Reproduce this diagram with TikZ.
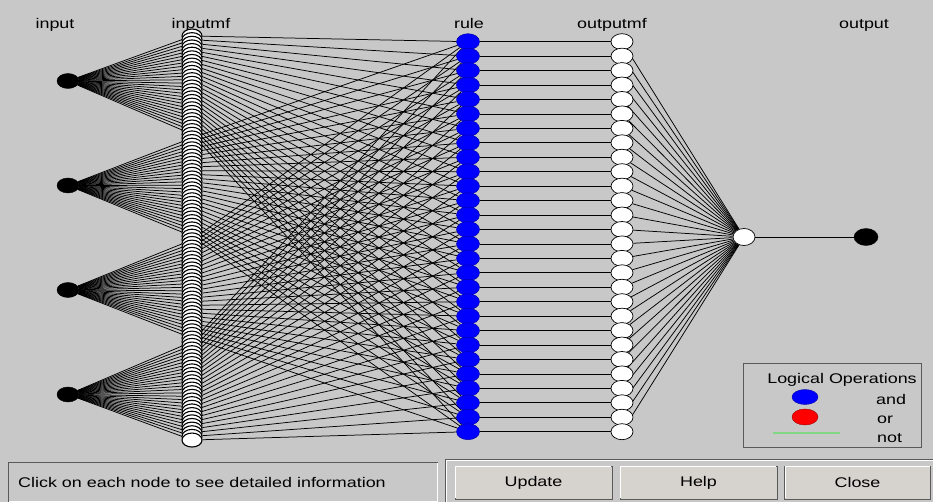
\documentclass[tikz,border=0pt]{standalone}
\usepackage{fontspec}
\setmainfont{Liberation Sans}
\newfontfamily\uifont[FakeStretch=1.28]{Liberation Sans}
\usetikzlibrary{shapes.geometric}
\definecolor{bg}{RGB}{200,200,200}
\definecolor{btnface}{RGB}{214,211,206}
\definecolor{frame}{RGB}{90,90,90}
\definecolor{notgreen}{RGB}{130,215,130}
\pgfdeclarelayer{bottom}
\pgfdeclarelayer{lines}
\pgfsetlayers{bottom,lines,main}
\tikzset{
  lbl/.style={font=\uifont\fontsize{14}{16}\selectfont, inner sep=0pt, text=black},
  inp/.style={ellipse, fill=black, draw=black, minimum width=22pt, minimum height=15pt, inner sep=0pt},
  mfn/.style={ellipse, fill=white, draw=black, line width=1.1pt, minimum width=20pt, minimum height=14pt, inner sep=0pt},
  rulen/.style={ellipse, fill=blue, draw={rgb,255:red,0;green,0;blue,170}, line width=0.5pt, minimum width=23pt, minimum height=16pt, inner sep=0pt},
  omf/.style={ellipse, fill=white, draw=black, line width=0.7pt, minimum width=22pt, minimum height=16pt, inner sep=0pt},
  wire/.style={line width=0.75pt, draw=black},
  btn/.style={lbl, rectangle, fill=btnface, draw=frame, line width=0.8pt, minimum width=157pt, minimum height=33pt},
  bevel/.style={draw=white, line width=1pt},
}
\begin{document}
\begin{tikzpicture}[x=1pt,y=-1pt]
\useasboundingbox (0,0) rectangle (933,502);
\begin{pgfonlayer}{bottom}
\fill[bg] (0,0) rectangle (933,502);
\end{pgfonlayer}

% column labels
\node[lbl, anchor=base] (linput) at (55,29) {input};
\node[lbl, anchor=base] (linputmf) at (201,29) {inputmf};
\node[lbl, anchor=base] (lrule) at (469,29) {rule};
\node[lbl, anchor=base] (loutputmf) at (612,29) {outputmf};
\node[lbl, anchor=base] (loutput) at (864,29) {output};

% input nodes
\foreach \i in {1,...,4}{
  \pgfmathsetmacro\yy{81+104.5*(\i-1)}
  \node[inp] (in\i) at (68,\yy) {};
}
% input membership functions
\foreach \i in {1,...,4}{
  \foreach \j in {1,...,28}{
    \pgfmathsetmacro\yy{36+((\i-1)*28+\j-1)*3.64}
    \node[mfn] (mf-\i-\j) at (192,\yy) {};
  }
}
% rules and output membership functions
\foreach \j in {1,...,28}{
  \pgfmathsetmacro\yy{41.7+(\j-1)*14.4444}
  \node[rulen] (r-\j) at (468,\yy) {};
  \node[omf] (om-\j) at (622,\yy) {};
}
\node[omf, minimum width=22pt, minimum height=17pt] (sum) at (744,237) {};
\node[inp, minimum width=24pt, minimum height=17pt] (out) at (866,237) {};

\begin{pgfonlayer}{lines}
\foreach \i in {1,...,4}{
  \foreach \j in {1,...,28}{
    \draw[wire] (in\i) -- (mf-\i-\j);
    \draw[wire] (mf-\i-\j) -- (r-\j);
  }
}
\foreach \j in {1,...,28}{
  \draw[wire] (r-\j) -- (om-\j);
  \draw[wire] (om-\j) -- (sum);
}
\draw[wire] (sum) -- (out);
\end{pgfonlayer}

% legend
\draw[draw=frame, line width=0.8pt] (743,363) rectangle (921,447);
\node[lbl] (lgt) at (842,380) {Logical Operations};
\node[ellipse, fill=blue, draw={rgb,255:red,0;green,0;blue,170}, minimum width=26pt, minimum height=15pt, inner sep=0pt] (lgand) at (805,397) {};
\node[ellipse, fill=red, draw=red!60!black, minimum width=26pt, minimum height=16pt, inner sep=0pt] (lgor) at (805,417) {};
\coordinate (ng1) at (773,433);
\coordinate (ng2) at (840,433);
\draw[notgreen, line width=1.5pt] (ng1) -- (ng2);
\node[lbl, anchor=base west] (tand) at (876,404) {and};
\node[lbl, anchor=base west] (tor) at (877,423) {or};
\node[lbl, anchor=base west] (tnot) at (877,442) {not};

% bottom status and buttons
\draw[frame, line width=0.8pt] (8,462) rectangle (437,501);
\draw[white, line width=0.8pt] (9,501) -- (437,501) -- (437,463);
\node[lbl, anchor=base west] (status) at (18,487) {Click on each node to see detailed information};
\draw[frame, line width=0.8pt] (445,502) |- (933,459);
\draw[white, line width=0.8pt] (446.5,502) |- (933,460.5);
\node[btn] (bupd) at (533.5,482.5) {Update};
\node[btn] (bhelp) at (698.5,482.5) {Help};
\node[btn, minimum width=146pt] (bclose) at (857.5,482.5) {Close};
\foreach \b in {bupd,bhelp,bclose}{
  \draw[bevel] ([xshift=1pt,yshift=1pt]\b.south west) |- ([xshift=-1pt,yshift=-1pt]\b.north east);
}
\end{tikzpicture}
\end{document}
